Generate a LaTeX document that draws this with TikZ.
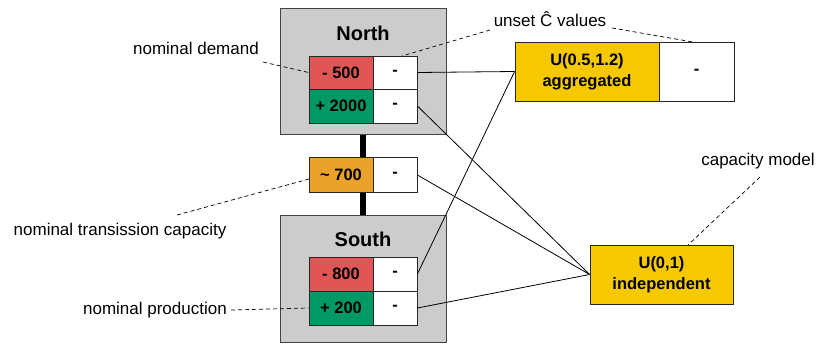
\documentclass[tikz,border=0pt]{standalone}
\usepackage{fontspec}
\setmainfont{Liberation Sans}
\definecolor{cred}{HTML}{E05555}
\definecolor{cgreen}{HTML}{009966}
\definecolor{corange}{HTML}{EAA22A}
\definecolor{cyellow}{HTML}{F5C800}
\definecolor{cgray}{HTML}{CCCCCC}
\definecolor{cborder}{HTML}{444444}
\begin{document}
\begin{tikzpicture}[x=1pt,y=-1pt,
  region/.style={draw=cborder,line width=1pt,fill=cgray},
  cell/.style={draw=black!85,line width=0.8pt,inner sep=0pt,font=\fontsize{16.5}{18}\selectfont\bfseries},
  dist/.style={draw=black!85,line width=0.8pt,inner sep=0pt,fill=cyellow,align=center,font=\fontsize{16.5}{21}\selectfont\bfseries},
  lbl/.style={inner sep=0pt,font=\fontsize{17}{20}\selectfont},
  title/.style={inner sep=0pt,font=\fontsize{20}{24}\selectfont\bfseries},
  note/.style={dashed,line width=0.7pt,dash pattern=on 4pt off 3pt},
  link/.style={line width=0.8pt}]
\useasboundingbox (0,0) rectangle (837,345);
% thick connector
\coordinate (tA) at (363,134);
\coordinate (tB) at (363,215);
\draw[line width=6pt] (tA) -- (tB);
% region boxes
\node[region,minimum width=166pt,minimum height=126pt,inner sep=0pt] (north) at (363,71.5) {};
\node[region,minimum width=166pt,minimum height=127pt,inner sep=0pt] (south) at (363,278.5) {};
\node[title] (northt) at (363,33) {North};
\node[title] (southt) at (363,239) {South};
% North cells
\node[cell,fill=cred,minimum width=64pt,minimum height=33pt] (nd) at (341,72.5) {- 500};
\node[cell,fill=white,minimum width=44pt,minimum height=33pt] (ndv) at (395,72.5) {-};
\node[cell,fill=cgreen,minimum width=64pt,minimum height=34pt] (np) at (341,106) {+ 2000};
\node[cell,fill=white,minimum width=44pt,minimum height=34pt] (npv) at (395,106) {-};
% transmission
\node[cell,fill=corange,minimum width=64pt,minimum height=35pt] (tc) at (341,175) {\textasciitilde{} 700};
\node[cell,fill=white,minimum width=44pt,minimum height=35pt] (tcv) at (395,175) {-};
% South cells
\node[cell,fill=cred,minimum width=64pt,minimum height=34pt] (sd) at (341,274) {- 800};
\node[cell,fill=white,minimum width=44pt,minimum height=34pt] (sdv) at (395,274) {-};
\node[cell,fill=cgreen,minimum width=64pt,minimum height=34pt] (sp) at (341,308) {+ 200};
\node[cell,fill=white,minimum width=44pt,minimum height=34pt] (spv) at (395,308) {-};
% distributions
\node[dist,minimum width=144pt,minimum height=59pt] (agg) at (587,71.5) {U(0.5,1.2)\\aggregated};
\node[cell,fill=white,minimum width=75pt,minimum height=59pt] (aggv) at (696.5,71.5) {-};
\node[dist,minimum width=143pt,minimum height=59pt] (ind) at (661.5,274.5) {U(0,1)\\independent};
% links
\draw[link] (ndv.east) -- (agg.west);
\draw[link] (sdv.east) -- (agg.west);
\draw[link] (npv.east) -- (ind.west);
\draw[link] (tcv.east) -- (ind.west);
\draw[link] (spv.east) -- (ind.west);
% annotations
\node[lbl,anchor=east] (l1) at (259,48) {nominal demand};
\node[lbl] (l2) at (550,19) {unset Ĉ values};
\node[lbl] (l3) at (758,161) {capacity model};
\node[lbl] (l4) at (120,231) {nominal transission capacity};
\node[lbl,anchor=east] (l5) at (227,310) {nominal production};
\coordinate (a1) at (263,62);
\draw[note] (a1) -- (nd.west);
\coordinate (a2) at (490,30);
\coordinate (b2) at (402,56);
\draw[note] (a2) -- (b2);
\coordinate (a3) at (612,28);
\coordinate (b3) at (693,42);
\draw[note] (a3) -- (b3);
\coordinate (a4) at (760,177);
\coordinate (b4) at (688,245);
\draw[note] (a4) -- (b4);
\coordinate (a5) at (177,215);
\coordinate (b5) at (309,179);
\draw[note] (a5) -- (b5);
\coordinate (a6) at (231,310);
\draw[note] (a6) -- (sp.west);
\end{tikzpicture}
\end{document}
